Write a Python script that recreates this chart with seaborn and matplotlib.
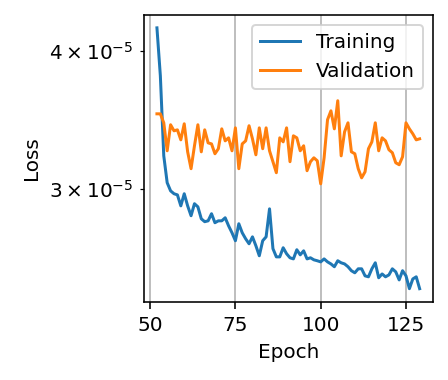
import numpy as np
import pandas as pd
import matplotlib
matplotlib.use("Agg")
import matplotlib.pyplot as plt
import seaborn as sns

##loss values##
epochs = list(range(52, 130))

train_loss = [4.197, 3.798, 3.215, 3.040, 2.989, 2.971, 2.964, 2.897, 2.971, 2.897,
              2.838, 2.910, 2.891, 2.820, 2.803, 2.808, 2.850, 2.797, 2.808, 2.808,
              2.826, 2.779, 2.739, 2.694, 2.791, 2.739, 2.705, 2.677, 2.716, 2.666,
              2.611, 2.694, 2.716, 2.879, 2.650, 2.605, 2.605, 2.655, 2.622, 2.600,
              2.594, 2.644, 2.616, 2.638, 2.594, 2.600, 2.589, 2.584, 2.578, 2.594,
              2.578, 2.567, 2.552, 2.584, 2.573, 2.567, 2.552, 2.531, 2.520, 2.541,
              2.541, 2.504, 2.499, 2.541, 2.573, 2.494, 2.514, 2.499, 2.509, 2.541,
              2.525, 2.483, 2.531, 2.504, 2.438, 2.488, 2.499, 2.438]

val_loss = [3.509, 3.509, 3.444, 3.249, 3.430, 3.387, 3.394, 3.324, 3.437, 3.242,
            3.130, 3.283, 3.430, 3.242, 3.394, 3.303, 3.296, 3.229, 3.263, 3.401,
            3.317, 3.338, 3.249, 3.408, 3.130, 3.296, 3.317, 3.423, 3.331, 3.222,
            3.408, 3.263, 3.408, 3.249, 3.176, 3.104, 3.338, 3.310, 3.408, 3.176,
            3.352, 3.338, 3.249, 3.283, 3.117, 3.176, 3.202, 3.182, 3.033, 3.202,
            3.466, 3.531, 3.401, 3.606, 3.215, 3.380, 3.444, 3.242, 3.229, 3.130,
            3.071, 3.110, 3.263, 3.310, 3.444, 3.249, 3.338, 3.317, 3.256, 3.236,
            3.169, 3.156, 3.209, 3.444, 3.401, 3.366, 3.324, 3.331]

df = pd.DataFrame({"Epoch": epochs,
                   "Training": np.array(train_loss) * 1e-5,
                   "Validation": np.array(val_loss) * 1e-5})

fig = plt.figure(figsize=(448 / 144, 380 / 144), dpi=144)
ax = fig.add_axes([0.321, 0.206, 0.645, 0.755])

sns.lineplot(data=df, x="Epoch", y="Training", label="Training", ax=ax)
sns.lineplot(data=df, x="Epoch", y="Validation", label="Validation", ax=ax)

ax.set_yscale("log")
ax.set_xticks([50, 75, 100, 125])
ax.grid(True)
ax.set_xlabel("Epoch")
ax.set_ylabel("Loss")
ax.legend(loc="upper right")

plt.savefig("out.png", dpi=144)
